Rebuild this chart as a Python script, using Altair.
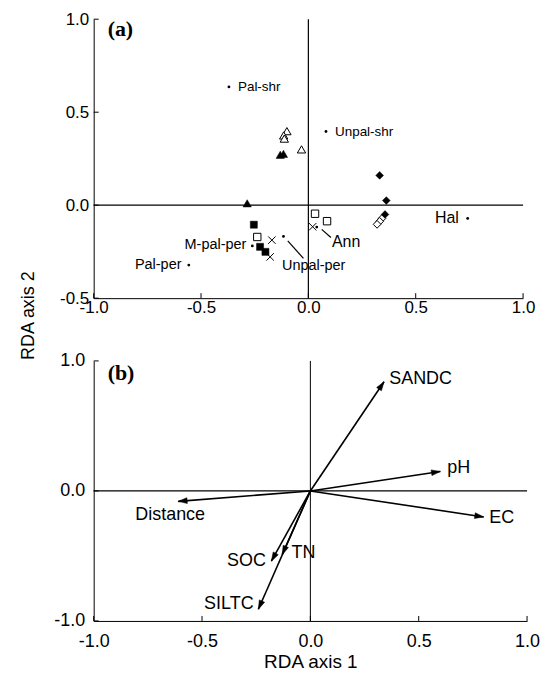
import math
import altair as alt
import pandas as pd

# ---------------- panel (a): site scores ----------------
tri_f_x = [-0.285, -0.131, -0.116]
tri_f_y = [0.010, 0.271, 0.276]
tri_o_x = [-0.100, -0.115, -0.112, -0.032]
tri_o_y = [0.398, 0.375, 0.358, 0.300]
sq_f_x = [-0.254, -0.225, -0.200]
sq_f_y = [-0.105, -0.224, -0.251]
sq_o_x = [-0.238, 0.031, 0.087]
sq_o_y = [-0.171, -0.046, -0.086]
cross_x = [-0.170, -0.178, 0.020]
cross_y = [-0.188, -0.278, -0.116]
dia_f_x = [0.332, 0.363, 0.357]
dia_f_y = [0.160, 0.025, -0.050]
dia_o_x = [0.343, 0.332, 0.320]
dia_o_y = [-0.071, -0.087, -0.103]

# group centroids (small dots) and their labels
grp_names = ["Pal-shr", "Unpal-shr", "M-pal-per", "Pal-per", "Unpal-per", "Ann", "Hal"]
grp_x = [-0.370, 0.082, -0.261, -0.557, -0.116, 0.039, 0.742]
grp_y = [0.636, 0.396, -0.219, -0.322, -0.168, -0.118, -0.071]
grp_lab_x = [-0.328, 0.124, -0.289, -0.591, 0.025, 0.110, 0.701]
grp_lab_y = [0.636, 0.396, -0.214, -0.322, -0.326, -0.198, -0.071]
grp_align = ["left", "left", "right", "right", "center", "left", "right"]
grp_fsize = [13.5, 13.5, 14.5, 14.5, 14.5, 16, 16]

# leader lines
lead_x1 = [-0.096, 0.062]
lead_y1 = [-0.192, -0.130]
lead_x2 = [-0.023, 0.105]
lead_y2 = [-0.286, -0.174]

# ---------------- panel (b): environmental vectors ----------------
env_names = ["SANDC", "pH", "EC", "Distance", "SOC", "TN", "SILTC"]
env_x = [0.34, 0.60, 0.80, -0.61, -0.18, -0.13, -0.24]
env_y = [0.84, 0.15, -0.20, -0.08, -0.54, -0.49, -0.91]
env_lab_x = [0.364, 0.632, 0.826, -0.647, -0.205, -0.087, -0.262]
env_lab_y = [0.864, 0.174, -0.207, -0.182, -0.542, -0.480, -0.872]
env_align = ["left", "left", "left", "center", "right", "left", "right"]

xticks = [-1.0, -0.5, 0.0, 0.5, 1.0]
ya_ticks = [-0.5, 0.0, 0.5, 1.0]
yb_ticks = [-1.0, 0.0, 1.0]

FONT = "Liberation Sans"
AW, AH = 431, 280
BW, BH = 435, 261
LAB = "datum.value < 0 ? '-' + format(-datum.value, '.1f') : format(datum.value, '.1f')"


def make_axes(values, fs, pad, **extra):
    kw = dict(values=values, labelExpr=LAB, ticks=False, grid=False,
              domainColor="black", domainWidth=1, labelFont=FONT,
              labelFontSize=fs, labelColor="black", labelPadding=pad,
              labelFlush=False, labelOverlap=False)
    kw.update(extra)
    return alt.Axis(**kw)


# ---- panel a scales/axes
xa_scale = alt.Scale(domain=[-1, 1], nice=False, zero=False)
ya_scale = alt.Scale(domain=[-0.5, 1], nice=False, zero=False)
xa_axis = make_axes(xticks, 17, 1.5, title=None)
ya_axis = make_axes(ya_ticks, 17, 5, title="RDA axis 2", titleX=-60, titleY=297,
                    titleBaseline="alphabetic", titleAngle=270, titleAlign="center",
                    titleFont=FONT, titleFontSize=18, titleFontWeight="normal",
                    titleColor="black")


def XA(f):
    return alt.X(f, type="quantitative", scale=xa_scale, axis=xa_axis)


def YA(f):
    return alt.Y(f, type="quantitative", scale=ya_scale, axis=ya_axis)


def pts(xs, ys):
    return pd.DataFrame({"x": xs, "y": ys})


X_PATH = "M-1,-1L1,1M-1,1L1,-1"

a_layers = []
a_layers.append(alt.Chart(pd.DataFrame({"x": [0.0]})).mark_rule(color="black", strokeWidth=1.2).encode(x=XA("x")))
a_layers.append(alt.Chart(pd.DataFrame({"y": [0.0]})).mark_rule(color="black", strokeWidth=1.2).encode(y=YA("y")))
a_layers.append(alt.Chart(pd.DataFrame({"x": xticks})).mark_rule(color="black", strokeWidth=1).encode(
    x=XA("x"), y=alt.value(AH), y2=alt.value(AH - 5)))
a_layers.append(alt.Chart(pd.DataFrame({"y": ya_ticks})).mark_rule(color="black", strokeWidth=1).encode(
    y=YA("y"), x=alt.value(0), x2=alt.value(5)))
# leader lines
a_layers.append(alt.Chart(pd.DataFrame({"x": lead_x1, "y": lead_y1, "x2": lead_x2, "y2": lead_y2}))
                .mark_rule(color="black", strokeWidth=1.2)
                .encode(x=XA("x"), y=YA("y"), x2="x2:Q", y2="y2:Q"))
# markers
a_layers.append(alt.Chart(pts(tri_f_x, tri_f_y)).mark_point(shape="triangle-up", filled=True, fill="black", stroke="black", strokeWidth=0.5, opacity=1, size=70).encode(x=XA("x"), y=YA("y")))
a_layers.append(alt.Chart(pts(tri_o_x, tri_o_y)).mark_point(shape="triangle-up", filled=True, fill="white", stroke="black", strokeWidth=1, opacity=1, size=70).encode(x=XA("x"), y=YA("y")))
a_layers.append(alt.Chart(pts(sq_f_x, sq_f_y)).mark_point(shape="square", filled=True, fill="black", stroke="black", strokeWidth=0.5, opacity=1, size=50).encode(x=XA("x"), y=YA("y")))
a_layers.append(alt.Chart(pts(sq_o_x, sq_o_y)).mark_point(shape="square", filled=True, fill="white", stroke="black", strokeWidth=1, opacity=1, size=55).encode(x=XA("x"), y=YA("y")))
a_layers.append(alt.Chart(pts(dia_o_x, dia_o_y)).mark_point(shape="diamond", filled=True, fill="white", stroke="black", strokeWidth=1, opacity=1, size=60).encode(x=XA("x"), y=YA("y")))
a_layers.append(alt.Chart(pts(dia_f_x, dia_f_y)).mark_point(shape="diamond", filled=True, fill="black", stroke="black", strokeWidth=0.5, opacity=1, size=60).encode(x=XA("x"), y=YA("y")))
a_layers.append(alt.Chart(pts(cross_x, cross_y)).mark_point(shape=X_PATH, filled=False, stroke="black", strokeWidth=1, opacity=1, size=55).encode(x=XA("x"), y=YA("y")))
a_layers.append(alt.Chart(pts(grp_x, grp_y)).mark_point(shape="circle", filled=True, fill="black", opacity=1, size=8).encode(x=XA("x"), y=YA("y")))
for i, name in enumerate(grp_names):
    a_layers.append(alt.Chart(pd.DataFrame({"x": [grp_lab_x[i]], "y": [grp_lab_y[i]], "t": [name]}))
                    .mark_text(font=FONT, fontSize=grp_fsize[i], align=grp_align[i], baseline="middle", color="black")
                    .encode(x=XA("x"), y=YA("y"), text="t:N"))
a_layers.append(alt.Chart(pd.DataFrame({"t": ["(a)"]})).mark_text(
    font="Liberation Serif", fontWeight="bold", fontSize=22, align="left", baseline="middle", color="black")
    .encode(x=alt.value(14), y=alt.value(10), text="t:N"))

panel_a = alt.layer(*a_layers).properties(width=AW, height=AH)

# ---- panel b
xb_scale = alt.Scale(domain=[-1, 1], nice=False, zero=False)
yb_scale = alt.Scale(domain=[-1, 1], nice=False, zero=False)
xb_axis = make_axes(xticks, 18, 12, title="RDA axis 1", titleY=47, titleBaseline="alphabetic",
                    titleFont=FONT, titleFontSize=19, titleFontWeight="normal", titleColor="black")
yb_axis = make_axes(yb_ticks, 18, 9, title=None)


def XB(f):
    return alt.X(f, type="quantitative", scale=xb_scale, axis=xb_axis)


def YB(f):
    return alt.Y(f, type="quantitative", scale=yb_scale, axis=yb_axis)


ang = [(math.degrees(math.atan2(x * BW / 2, y * BH / 2))) % 360 for x, y in zip(env_x, env_y)]
env_df = pd.DataFrame({"x0": [0.0] * len(env_x), "y0": [0.0] * len(env_x),
                       "x": env_x, "y": env_y, "ang": ang})
HEAD = "M0,0L-0.32,1L0.32,1Z"

b_layers = []
b_layers.append(alt.Chart(pd.DataFrame({"x": [0.0]})).mark_rule(color="black", strokeWidth=1).encode(x=XB("x")))
b_layers.append(alt.Chart(pd.DataFrame({"y": [0.0]})).mark_rule(color="black", strokeWidth=1.2).encode(y=YB("y")))
b_layers.append(alt.Chart(pd.DataFrame({"x": xticks})).mark_rule(color="black", strokeWidth=1).encode(
    x=XB("x"), y=alt.value(BH), y2=alt.value(BH - 5)))
b_layers.append(alt.Chart(pd.DataFrame({"y": yb_ticks})).mark_rule(color="black", strokeWidth=1).encode(
    y=YB("y"), x=alt.value(0), x2=alt.value(5)))
b_layers.append(alt.Chart(env_df).mark_rule(color="black", strokeWidth=1.6).encode(
    x=XB("x0"), y=YB("y0"), x2="x:Q", y2="y:Q"))
b_layers.append(alt.Chart(env_df).mark_point(shape=HEAD, filled=True, fill="black", stroke="black",
                                             strokeWidth=0.5, opacity=1, size=324).encode(
    x=XB("x"), y=YB("y"), angle=alt.Angle("ang:Q", scale=None)))
for i, name in enumerate(env_names):
    b_layers.append(alt.Chart(pd.DataFrame({"x": [env_lab_x[i]], "y": [env_lab_y[i]], "t": [name]}))
                    .mark_text(font=FONT, fontSize=18, align=env_align[i], baseline="middle", color="black")
                    .encode(x=XB("x"), y=YB("y"), text="t:N"))
b_layers.append(alt.Chart(pd.DataFrame({"t": ["(b)"]})).mark_text(
    font="Liberation Serif", fontWeight="bold", fontSize=22, align="left", baseline="middle", color="black")
    .encode(x=alt.value(14), y=alt.value(12), text="t:N"))

panel_b = alt.layer(*b_layers).properties(width=BW, height=BH)

chart = alt.vconcat(panel_a, panel_b, spacing=63, bounds="flush").properties(
    padding={"left": 12, "top": 1, "right": 0, "bottom": 0}, background="white"
).configure_view(stroke=None)

chart.save("out.html", embed_options={"renderer": "svg", "actions": False})
